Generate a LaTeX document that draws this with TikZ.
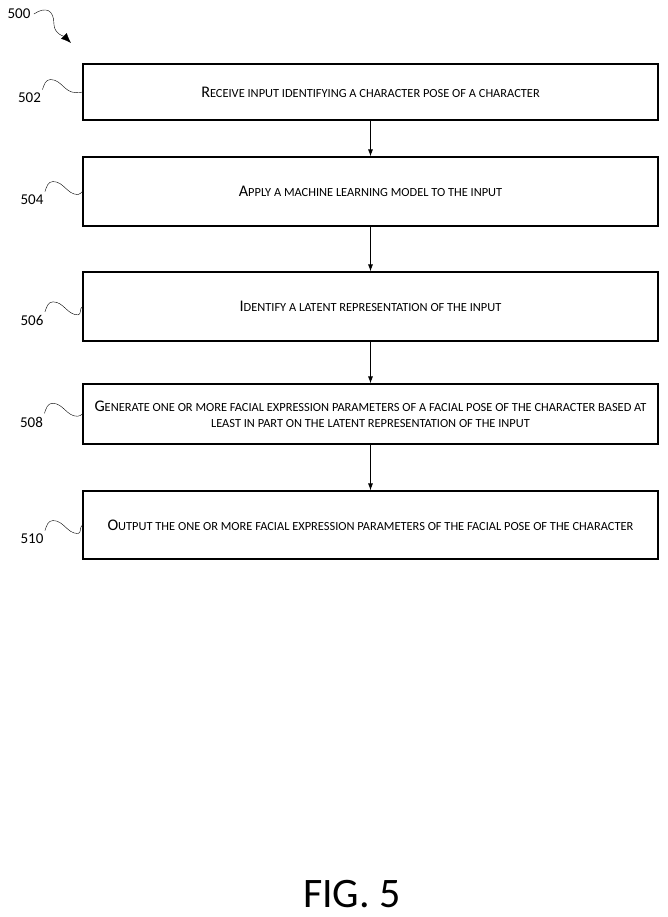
\documentclass[tikz,border=0pt]{standalone}
\usepackage{fontspec}
\setmainfont{Carlito}
\usetikzlibrary{arrows.meta, positioning}
\newcommand\sctext[2]{{\fontsize{16.2}{18}\selectfont #1}{\fontsize{12.4}{18}\selectfont\MakeUppercase{#2}}}
% squiggly reference line from a label to the left edge of a box
\newcommand\refline[2]{\draw[thin] (#1.north east) ++(-2,0) to[out=70,in=180] ++(8,-10) to[out=0,in=180] ++(25,13) to[out=0,in=210] (#2.west);}

\begin{document}
\begin{tikzpicture}[x=1pt, y=-1pt]
\tikzset{stepbox/.style={draw, line width=1.1pt, minimum width=575pt, align=center, inner sep=0pt},
         refnum/.style={font=\fontsize{15}{17}\selectfont},
         flow/.style={-{Latex[length=7pt, width=5pt]}, line width=0.8pt}}
\useasboundingbox (0,0) rectangle (668,917);

\node[stepbox, minimum height=56pt] (s502) at (370.5,92) {\sctext{R}{eceive input identifying a character pose of a character}};
\node[stepbox, minimum height=69pt] (s504) at (370.5,191.5) {\sctext{A}{pply a machine learning model to the input}};
\node[stepbox, minimum height=69pt] (s506) at (370.5,306.5) {\sctext{I}{dentify a latent representation of the input}};
\node[stepbox, minimum height=60pt] (s508) at (370.5,414) {\sctext{G}{enerate one or more facial expression parameters of a facial pose of the character based at}\\[4pt]
  \sctext{}{least in part on the latent representation of the input}};
\node[stepbox, minimum height=68pt] (s510) at (370.5,525) {\sctext{O}{utput the one or more facial expression parameters of the facial pose of the character}};

\draw[flow] (s502) -- (s504);
\draw[flow] (s504) -- (s506);
\draw[flow] (s506) -- (s508);
\draw[flow] (s508) -- (s510);

\node[refnum] (n500) at (19,14) {500};
\node[refnum] (n502) at (29.5,98) {502};
\node[refnum] (n504) at (32,200) {504};
\node[refnum] (n506) at (32,320.5) {506};
\node[refnum] (n508) at (31.5,422) {508};
\node[refnum] (n510) at (32,539) {510};

\coordinate (a500) at (71,43);
\draw[-{Latex[length=10pt, width=8pt]}, thin] (n500.east) .. controls +(12,-8) and +(0,-14) .. +(20,10) .. controls +(0,10) and +(-6,-6) .. (a500);

\refline{n502}{s502}
\refline{n504}{s504}
\refline{n506}{s506}
\refline{n508}{s508}
\refline{n510}{s510}

\node[font=\fontsize{42}{46}\selectfont] (fig) at (352,894) {FIG. 5};
\end{tikzpicture}
\end{document}
